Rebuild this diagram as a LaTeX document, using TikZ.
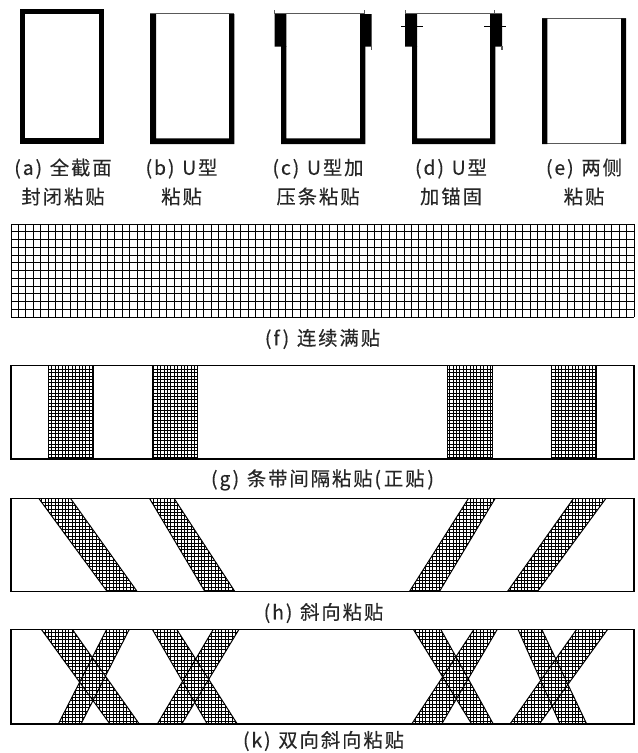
\documentclass[tikz,border=0pt]{standalone}
\usepackage{fontspec}
\setmainfont[LetterSpace=10,FakeBold=0.3]{Noto Sans CJK SC}
\tikzset{
thinedge/.style={draw=black!65, line width=0.9pt},
figcap/.style={font=\fontsize{14.5pt}{21.75pt}\selectfont, align=center, text=black!85, inner sep=0pt},
panel/.style={draw, line width=0.85pt},
meshline/.style={line width=0.52pt},
bandedge/.style={line width=0.75pt},
gridline/.style={line width=0.75pt},
}
\newcommand{\capgap}{\hspace{0.4em}}
% one sloped or upright band: top left, top right, bottom right, bottom left, then y range
\newcommand{\meshband}[6]{
  \begin{scope}
    \clip (#1,#5) -- (#2,#5) -- (#3,#6) -- (#4,#6) -- cycle;
    \foreach \gx in {11,14.4,...,634}
      \draw [meshline] (\gx,#5) -- (\gx,#6);
    \foreach \gy in {0,...,28}
      \draw [meshline] (11,{#5+\gy*3.4}) -- (634,{#5+\gy*3.4});
  \end{scope}
  \draw [bandedge] (#2,#5) -- (#3,#6) (#4,#6) -- (#1,#5);
}
\begin{document}
\begin{tikzpicture}[x=0.75pt,y=-0.75pt]
  \useasboundingbox (0,0) rectangle (637,753);

  % Sections
  \fill (20,9) rectangle (104,144);
  \fill [white] (25.3,14.3) rectangle (99,138.3);

  \draw [thinedge] (150,13.5) -- (234,13.5);
  \fill (150,14) rectangle (156,144) (156,138.3) rectangle (229,144) (229,14) rectangle (234.3,144);

  \draw [thinedge] (274.5,13.5) -- (365,13.5);
  \fill (281,46) rectangle (286.3,144) (286.3,138.3) rectangle (360,144) (360,46) rectangle (365.3,144);
  \fill (274.5,14) rectangle (286.3,46.5) (360,14) rectangle (371.5,46.5);
  \draw [thinedge] (274.8,10) -- (274.8,14) (364.8,10) -- (364.8,14) (371.3,46) -- (371.3,49.5);

  \draw [thinedge] (405,13.5) -- (502,13.5);
  \fill (412,46) rectangle (417,144) (417,138.3) rectangle (490,144) (490,46) rectangle (495.3,144);
  \fill (405,14) rectangle (417,46.5) (490,14) rectangle (502,46.5);
  \draw [thinedge] (405.2,10) -- (405.2,14) (494.5,10) -- (494.5,14) (502,46) -- (502,49.5);
  \draw [line width=0.9pt] (401,26.5) -- (423,26.5) (484,26.5) -- (506,26.5);

  \draw [thinedge] (542,18.7) -- (626,18.7) (542,143.5) -- (626,143.5);
  \fill (542,18.3) rectangle (547.3,144) (621,18.3) rectangle (626,144);

  % Labels
  \node [figcap] (capa) at (63,182) {(a)\capgap 全截面\\封闭粘贴};
  \node [figcap] (capb) at (181.5,182) {(b)\capgap U型\\粘贴};
  \node [figcap] (capc) at (318,182) {(c)\capgap U型加\\压条粘贴};
  \node [figcap] (capd) at (451,182) {(d)\capgap U型\\加锚固};
  \node [figcap] (cape) at (584,182) {(e)\capgap 两侧\\粘贴};

  % Continuous wrap
  \foreach \gx in {0,...,84}
    \draw [gridline] ({11+\gx*7.417},224) -- ({11+\gx*7.417},317.3);
  \foreach \gy in {0,...,12}
    \draw [gridline] (11,{224+\gy*7.775}) -- (634,{224+\gy*7.775});
  \node [figcap] (capf) at (322.5,339) {(f)\capgap 连续满贴};

  % Upright strips
  \draw [panel] (11,365.7) rectangle (634,459);
  \foreach \sx in {48.7,152.3,447,551}
    \meshband{\sx}{\sx+45}{\sx+45}{\sx}{365.7}{459};
  \node [figcap] (capg) at (322.5,480) {(g)\capgap 条带间隔粘贴(\hspace{0.15em}正贴\hspace{0.15em})};

  % Sloped strips
  \draw [panel] (11,498.7) rectangle (634,591.7);
  \meshband{39}{70.7}{137.3}{107.3}{498.7}{591.7};
  \meshband{149.7}{174.3}{235}{205}{498.7}{591.7};
  \meshband{468.3}{495}{439.3}{409.3}{498.7}{591.7};
  \meshband{573.3}{605.7}{537.3}{507.3}{498.7}{591.7};
  \node [figcap] (caph) at (323.5,613) {(h)\capgap 斜向粘贴};

  % Crossed strips
  \draw [panel] (11,629.3) rectangle (634,724);
  \meshband{41.3}{72.3}{139.3}{110}{629.3}{724};
  \meshband{106.7}{129.3}{81}{58.3}{629.3}{724};
  \meshband{152.3}{176.7}{237.3}{207.3}{629.3}{724};
  \meshband{213.3}{239}{181.7}{157.3}{629.3}{724};
  \meshband{413.3}{440.7}{493.3}{471.7}{629.3}{724};
  \meshband{474}{497.3}{441.7}{411.7}{629.3}{724};
  \meshband{518}{541.7}{586.7}{560}{629.3}{724};
  \meshband{576.7}{607.7}{539.3}{510}{629.3}{724};
  \node [figcap] (capk) at (323.5,741) {(k)\capgap 双向斜向粘贴};
\end{tikzpicture}
\end{document}
